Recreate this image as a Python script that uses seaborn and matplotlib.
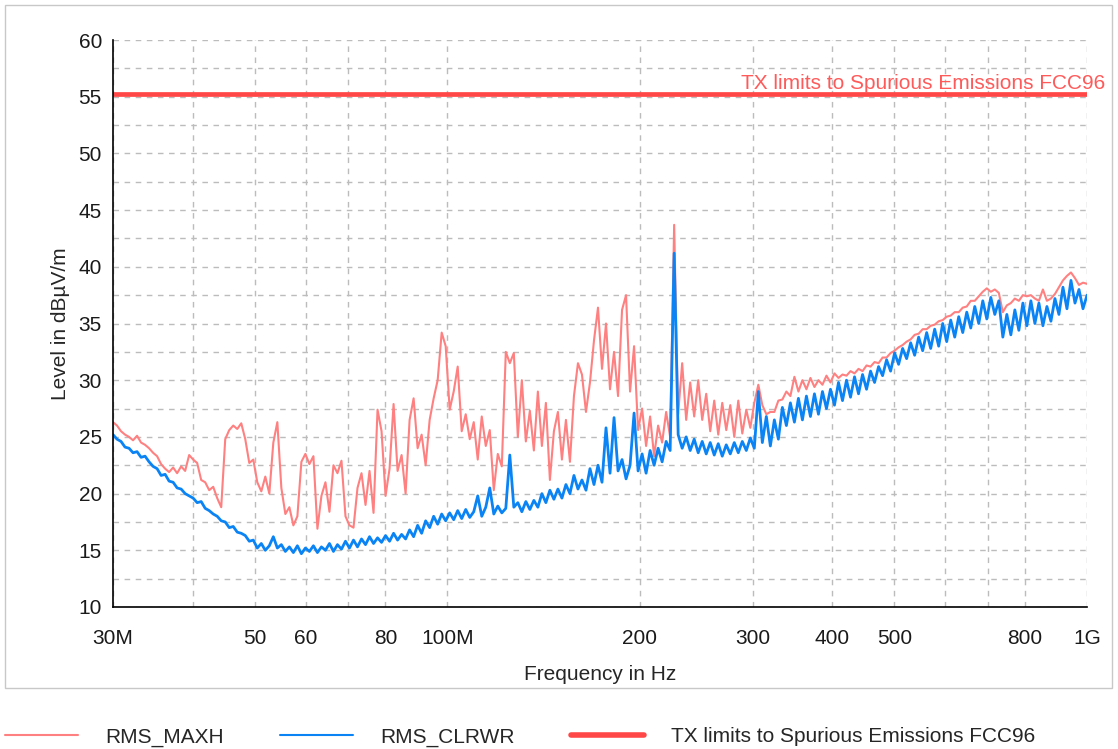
import numpy as np
import matplotlib
matplotlib.use("Agg")
import matplotlib.pyplot as plt
from matplotlib.ticker import FixedLocator, FixedFormatter, MultipleLocator, NullLocator
from matplotlib.lines import Line2D
from matplotlib.patches import Rectangle
import seaborn as sns

# Sweep levels in dBuV/m, one value per log-spaced frequency point (30 MHz .. 1 GHz)
maxh_db = [
    26.3, 26.0, 25.5, 25.2, 25.0, 24.7, 25.1, 24.5, 24.3, 24.0,
    23.6, 23.3, 22.6, 22.2, 21.9, 22.3, 21.8, 22.4, 22.0, 23.4,
    23.0, 22.7, 21.2, 21.0, 20.3, 20.6, 19.6, 18.8, 24.8, 25.6,
    26.0, 25.7, 26.2, 24.8, 22.7, 23.0, 21.0, 20.2, 21.5, 20.0,
    24.5, 26.3, 20.5, 18.2, 18.8, 17.2, 18.0, 22.8, 23.5, 22.6,
    23.3, 16.9, 19.8, 21.0, 18.4, 22.5, 21.8, 22.9, 18.0, 17.2,
    17.0, 20.5, 21.8, 19.0, 22.0, 18.3, 27.4, 25.5, 19.8, 22.2,
    27.9, 22.0, 23.4, 20.0, 26.5, 28.4, 24.0, 25.2, 22.5, 26.5,
    28.4, 30.0, 34.2, 33.0, 27.4, 29.0, 31.2, 25.5, 27.0, 24.8,
    26.3, 23.0, 26.8, 24.2, 25.6, 20.3, 23.5, 22.4, 32.5, 31.5,
    32.4, 25.0, 30.0, 24.6, 27.3, 23.8, 29.0, 24.2, 28.0, 21.2,
    25.5, 27.2, 23.0, 26.5, 22.8, 28.6, 31.5, 30.5, 27.2, 29.8,
    33.5, 36.4, 31.0, 35.0, 29.2, 32.5, 28.6, 36.2, 37.5, 29.0,
    33.0, 25.6, 27.5, 24.2, 26.8, 23.3, 26.0, 24.5, 27.2, 25.0,
    43.7, 27.0, 31.5, 26.5, 29.8, 26.8, 30.0, 26.5, 28.8, 25.5,
    28.2, 25.2, 28.0, 25.6, 27.8, 25.0, 28.2, 25.3, 27.4, 25.8,
    28.0, 29.6, 27.8, 27.0, 27.2, 27.2, 28.2, 28.3, 29.0, 28.6,
    30.3, 29.0, 30.0, 29.2, 30.2, 29.4, 30.0, 29.6, 30.4, 29.8,
    30.6, 30.2, 30.5, 30.4, 30.8, 30.6, 31.0, 30.8, 31.3, 31.2,
    31.6, 31.5, 32.0, 32.0, 32.4, 32.6, 32.9, 33.1, 33.4, 33.6,
    34.0, 34.1, 34.5, 34.5, 34.8, 34.9, 35.2, 35.3, 35.6, 35.7,
    36.0, 36.0, 36.4, 36.5, 37.0, 37.0, 37.4, 37.8, 38.1, 37.8,
    38.0, 37.7, 36.0, 36.6, 36.8, 37.2, 37.0, 37.5, 37.4, 37.5,
    37.2, 37.0, 38.0, 37.0, 37.2, 37.6, 38.2, 38.8, 39.2, 39.5,
    39.0, 38.4, 38.6, 38.5,
]

clrwr_db = [
    25.2, 24.8, 24.6, 24.1, 24.0, 23.6, 23.7, 23.2, 23.3, 22.8,
    22.4, 22.2, 21.6, 21.7, 21.1, 21.0, 20.5, 20.4, 20.0, 19.8,
    19.6, 19.2, 19.3, 18.7, 18.5, 18.2, 18.0, 17.6, 17.5, 17.0,
    17.1, 16.6, 16.5, 16.3, 15.8, 15.9, 15.2, 15.6, 15.0, 15.4,
    16.2, 15.2, 15.5, 14.9, 15.3, 14.8, 15.4, 14.7, 15.2, 14.9,
    15.4, 14.8, 15.3, 15.0, 15.6, 14.9, 15.5, 15.1, 15.8, 15.2,
    15.9, 15.3, 16.0, 15.5, 16.2, 15.6, 16.1, 15.7, 16.3, 15.8,
    16.5, 15.9, 16.4, 16.0, 16.8, 16.2, 17.2, 16.5, 17.6, 17.0,
    18.0, 17.3, 18.2, 17.6, 18.3, 17.7, 18.5, 17.8, 18.6, 17.9,
    18.4, 19.8, 18.0, 18.8, 20.5, 18.2, 18.9, 18.3, 18.7, 23.4,
    18.8, 19.2, 18.4, 19.3, 18.6, 19.4, 18.8, 20.0, 19.2, 20.3,
    19.5, 20.4, 19.6, 20.8, 20.0, 21.6, 20.4, 21.2, 20.3, 22.2,
    20.8, 22.5, 21.0, 25.8, 21.8, 26.7, 22.0, 23.0, 21.3, 22.5,
    27.1, 22.0, 23.5, 21.8, 23.8, 22.5, 24.0, 22.8, 24.6, 23.8,
    41.2, 25.2, 24.0, 25.0, 23.8, 24.8, 23.6, 24.6, 23.5, 24.5,
    23.4, 24.4, 23.3, 24.3, 23.5, 24.5, 23.6, 24.6, 23.8, 24.9,
    24.0, 29.0, 24.5, 26.8, 24.2, 26.5, 24.8, 27.6, 26.0, 28.0,
    26.3, 28.4, 26.5, 28.6, 26.8, 28.8, 27.0, 29.0, 27.5, 29.2,
    27.8, 29.8, 28.2, 30.0, 28.5, 30.3, 28.8, 30.5, 29.2, 30.8,
    29.8, 31.2, 30.4, 31.8, 30.8, 32.4, 31.4, 32.8, 31.9, 33.3,
    32.2, 33.8, 32.6, 34.2, 32.8, 34.5, 33.0, 35.0, 33.4, 35.3,
    33.8, 35.6, 34.2, 36.0, 34.6, 36.5, 35.0, 37.0, 35.4, 37.3,
    35.8, 37.0, 33.8, 35.8, 34.0, 36.2, 34.4, 36.8, 34.8, 37.0,
    35.0, 36.8, 34.8, 36.5, 35.2, 37.2, 35.8, 38.2, 36.3, 38.8,
    36.8, 38.0, 36.3, 37.5,
]

limit_db = 55.2
limit_label = "TX limits to Spurious Emissions FCC96"

x_ticks = [30e6, 40e6, 50e6, 60e6, 70e6, 80e6, 100e6, 200e6, 300e6,
           400e6, 500e6, 600e6, 700e6, 800e6, 1e9]
x_tick_labels = ["30M", "", "50", "60", "", "80", "100M", "200", "300",
                 "400", "500", "", "", "800", "1G"]

freq_hz = np.geomspace(30e6, 1e9, len(maxh_db))

PINK = "#FF8080"
BLUE = "#0A84F5"
RED = "#FF4747"
FS = 15

sns.set_style("white")
plt.rcParams["font.family"] = ["Liberation Sans", "DejaVu Sans"]

W, H = 1118, 749
fig = plt.figure(figsize=(W / 100, H / 100), dpi=100)
ax = fig.add_axes([113 / W, 1 - 607 / H, 974 / W, 567 / H])

sns.lineplot(x=freq_hz, y=maxh_db, color=PINK, linewidth=1.5, ax=ax, legend=False)
sns.lineplot(x=freq_hz, y=clrwr_db, color=BLUE, linewidth=2.0, ax=ax, legend=False)
sns.lineplot(x=[30e6, 1e9], y=[limit_db, limit_db], color=RED, linewidth=3.4,
             ax=ax, legend=False)

ax.set_xscale("log")
ax.set_xlim(30e6, 1e9)
ax.set_ylim(10, 60)

ax.xaxis.set_major_locator(FixedLocator(x_ticks))
ax.xaxis.set_major_formatter(FixedFormatter(x_tick_labels))
ax.xaxis.set_minor_locator(NullLocator())
ax.yaxis.set_major_locator(MultipleLocator(5))
ax.yaxis.set_minor_locator(MultipleLocator(2.5))

ax.grid(True, which="both", color="#bcbcbc", linestyle=(0, (4, 4)), linewidth=1)
ax.set_axisbelow(True)

for side in ("top", "right"):
    ax.spines[side].set_visible(False)
for side in ("left", "bottom"):
    ax.spines[side].set_color("black")
    ax.spines[side].set_linewidth(1.2)

ax.tick_params(axis="both", which="both", direction="inout", length=12, width=1,
               color="black", labelsize=FS, labelcolor="#1a1a1a")
ax.tick_params(axis="x", pad=10)
ax.tick_params(axis="y", pad=2)

ax.set_xlabel("Frequency in Hz", fontsize=FS, labelpad=12)
ax.set_ylabel("Level in dBµV/m", fontsize=FS, labelpad=6)

ax.text((1105 - 113) / 974, limit_db + 0.95, limit_label,
        transform=ax.get_yaxis_transform(), ha="right", va="center",
        color="#FF5A5A", fontsize=FS, clip_on=False)

# outer frame of the chart panel
fig.add_artist(Rectangle((5 / W, 1 - 688 / H), (1112 - 5) / W, (688 - 5) / H,
                         transform=fig.transFigure, fill=False,
                         edgecolor="#c8c8c8", linewidth=1))

handles = [
    Line2D([], [], color=PINK, linewidth=1.5),
    Line2D([], [], color=BLUE, linewidth=1.5),
    Line2D([], [], color=RED, linewidth=4),
]
labels = ["RMS_MAXH", "RMS_CLRWR", limit_label]
fig.legend(handles, labels, loc="center left", bbox_to_anchor=(5 / W, 1 - 737 / H),
           ncol=3, frameon=False, fontsize=FS, handlelength=3.5, handletextpad=1.3,
           columnspacing=2.7, borderpad=0, borderaxespad=0)

fig.savefig("out.png", dpi=100)
